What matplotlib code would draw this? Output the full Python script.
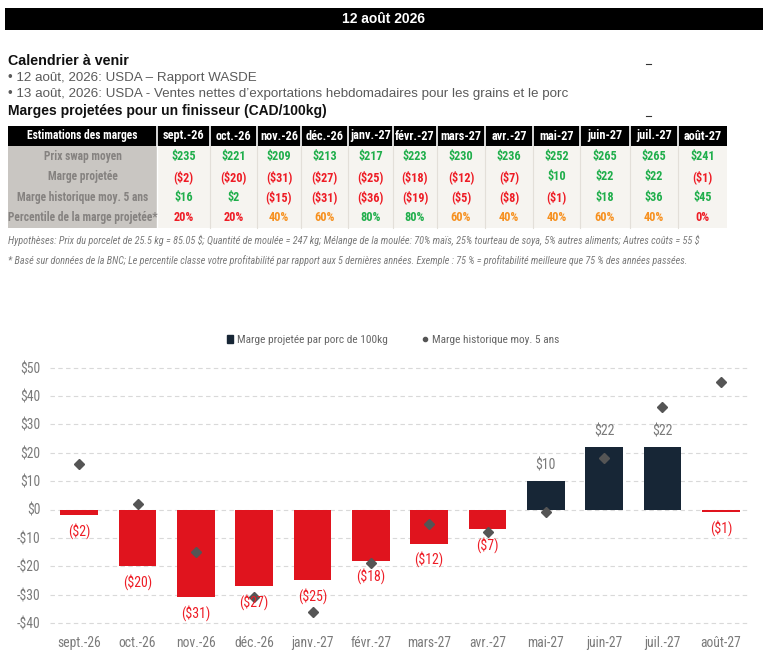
import matplotlib
matplotlib.use('Agg')
import matplotlib.pyplot as plt
from matplotlib import font_manager
from matplotlib.patches import Rectangle, Patch
from matplotlib.lines import Line2D

plt.rcParams['text.parse_math'] = False

# ---------------- data ----------------
months = ["sept.-26", "oct.-26", "nov.-26", "déc.-26", "janv.-27", "févr.-27",
          "mars-27", "avr.-27", "mai-27", "juin-27", "juil.-27", "août-27"]
swap_price = [235, 221, 209, 213, 217, 223, 230, 236, 252, 265, 265, 241]
proj_margin = [-2, -20, -31, -27, -25, -18, -12, -7, 10, 22, 22, -1]
hist_margin = [16, 2, -15, -31, -36, -19, -5, -8, -1, 18, 36, 45]
percentile = [20, 20, 40, 60, 80, 80, 60, 40, 40, 60, 40, 0]
row_labels = ["Prix swap moyen", "Marge projetée", "Marge historique moy. 5 ans",
              "Percentile de la marge projetée*"]
y_ticks = [-40, -30, -20, -10, 0, 10, 20, 30, 40, 50]

title_banner = "12 août 2026"
cal_title = "Calendrier à venir"
cal_items = ["• 12 août, 2026: USDA – Rapport WASDE",
             "• 13 août, 2026: USDA - Ventes nettes d’exportations hebdomadaires pour les grains et le porc"]
table_title = "Marges projetées pour un finisseur (CAD/100kg)"
table_head = "Estimations des marges"
note1 = ("Hypothèses: Prix du porcelet de 25.5 kg = 85.05 $; Quantité de moulée = 247 kg; "
         "Mélange de la moulée: 70% maïs, 25% tourteau de soya, 5% autres aliments; Autres coûts = 55 $")
note2 = ("* Basé sur données de la BNC; Le percentile classe votre profitabilité par rapport aux "
         "5 dernières années. Exemple : 75 % = profitabilité meilleure que 75 % des années passées.")
legend_labels = ["Marge projetée par porc de 100kg", "Marge historique moy. 5 ans"]

# ---------------- fonts ----------------
avail = {f.name for f in font_manager.fontManager.ttflist}
def pick(*names):
    for n in names:
        if n in avail:
            return n
    return 'DejaVu Sans'
NARROW = pick('Liberation Sans Narrow', 'DejaVu Sans Condensed', 'Roboto Condensed', 'Liberation Sans')
SANS = pick('Liberation Sans', 'Arial', 'DejaVu Sans')
plt.rcParams['font.family'] = [SANS, 'DejaVu Sans']

# ---------------- colours ----------------
RED = '#e0141e'
NAVY = '#172636'
GREEN = '#1fae4b'
ORANGE = '#f7901e'
TXT_RED = '#ee1c25'
GRAY_TXT = '#858280'

W, H = 781, 657
fig = plt.figure(figsize=(W / 100, H / 100), dpi=100)
fig.patch.set_facecolor('white')

ax0 = fig.add_axes([0, 0, 1, 1])
ax0.set_xlim(0, W)
ax0.set_ylim(H, 0)
ax0.axis('off')

# banner
ax0.add_patch(Rectangle((5, 8), 758, 22, color='black', lw=0))
ax0.text(384, 19, title_banner, color='white', fontsize=10, fontweight='bold',
         ha='center', va='center')

ax0.text(8, 61, cal_title, fontsize=10.3, fontweight='bold', color='#111111', va='center')
ax0.text(8, 78, cal_items[0], fontsize=9.6, color='#5a5a5a', va='center')
ax0.text(8, 94.5, cal_items[1], fontsize=9.6, color='#5a5a5a', va='center')
ax0.text(8, 111, table_title, fontsize=10, fontweight='bold', color='#111111', va='center')
ax0.plot([646, 651], [64, 64], color='#333333', lw=0.8)
ax0.plot([646, 651], [116, 116], color='#333333', lw=0.8)

# table
col_edges = [8, 157, 210, 257, 301, 348, 393, 437, 485, 533, 580, 630, 678, 727]
row_edges = [126, 146, 166.5, 187, 207.5, 228]
ax0.add_patch(Rectangle((col_edges[0], row_edges[0]), col_edges[-1] - col_edges[0],
                        row_edges[1] - row_edges[0], color='black', lw=0))
ax0.add_patch(Rectangle((col_edges[0], row_edges[1]), col_edges[1] - col_edges[0],
                        row_edges[-1] - row_edges[1], color='#c9c6c2', lw=0))
ax0.add_patch(Rectangle((col_edges[1], row_edges[1]), col_edges[-1] - col_edges[1],
                        row_edges[-1] - row_edges[1], color='#f6f4f0', lw=0))
for x in col_edges[1:-1]:
    ax0.plot([x, x], [row_edges[0], row_edges[1]], color='white', lw=1.2)
    if x != col_edges[1]:
        ax0.plot([x, x], [row_edges[1], row_edges[-1]], color='#e3dfd9', lw=0.8)
ax0.plot([col_edges[1], col_edges[1]], [row_edges[1], row_edges[-1]], color='white', lw=1)

def cx(i):
    return (col_edges[i] + col_edges[i + 1]) / 2

def cy(r):
    return (row_edges[r] + row_edges[r + 1]) / 2

LFS = 8.3   # first column / header label
VFS = 8.8   # values
ax0.text(cx(0), cy(0), table_head, family=NARROW, fontweight='bold', fontsize=LFS,
         color='white', ha='center', va='center')
for j, m in enumerate(months):
    ax0.text(cx(j + 1), cy(0), m, family=NARROW, fontweight='bold', fontsize=VFS,
             color='white', ha='center', va='center')
for r, lab in enumerate(row_labels):
    ax0.text(cx(0), cy(r + 1), lab, family=NARROW, fontweight='bold', fontsize=LFS,
             color=GRAY_TXT, ha='center', va='center')

def money(v):
    return f"${v}" if v >= 0 else f"(${-v})"

def pct_color(p):
    if p <= 20:
        return TXT_RED
    if p <= 60:
        return ORANGE
    return GREEN

for j in range(len(months)):
    vals = [(money(swap_price[j]), GREEN if swap_price[j] >= 0 else TXT_RED),
            (money(proj_margin[j]), GREEN if proj_margin[j] >= 0 else TXT_RED),
            (money(hist_margin[j]), GREEN if hist_margin[j] >= 0 else TXT_RED),
            (f"{percentile[j]}%", pct_color(percentile[j]))]
    for r, (s, c) in enumerate(vals):
        ax0.text(cx(j + 1), cy(r + 1), s, family=NARROW, fontweight='bold', fontsize=VFS,
                 color=c, ha='center', va='center')

ax0.text(8, 240, note1, family=NARROW, style='italic', fontsize=7.35, color='#7a7a7a', va='center')
ax0.text(8, 261, note2, family=NARROW, style='italic', fontsize=7.3, color='#7a7a7a', va='center')

# ---------------- chart ----------------
ppu = 2.837
zero_px = 509.5
ytop, ybot = 54, -42
top_px = zero_px - ytop * ppu
bot_px = zero_px - ybot * ppu
ax = fig.add_axes([50 / W, (H - bot_px) / H, 700 / W, (bot_px - top_px) / H])
ax.set_facecolor('none')
x = list(range(len(months)))
colors = [NAVY if v >= 0 else RED for v in proj_margin]
bars = ax.bar(x, proj_margin, width=0.643, color=colors, zorder=2)
ax.plot(x, hist_margin, linestyle='none', marker='D', markersize=5.2, color='#555555', zorder=3)
for xi, v in zip(x, proj_margin):
    if v >= 0:
        ax.annotate(money(v), (xi, v), xytext=(0, 11), textcoords='offset points',
                    ha='center', va='center', fontsize=10, color='#7a7a7a', family=NARROW)
    else:
        ax.annotate(money(v), (xi, v), xytext=(0, -11.5), textcoords='offset points',
                    ha='center', va='center', fontsize=10, color=TXT_RED, family=NARROW)
ax.set_xlim(-0.5, len(months) - 0.5)
ax.set_ylim(ybot, ytop)
ax.set_yticks(y_ticks)
ax.set_yticklabels([f"${t}" if t >= 0 else f"-${-t}" for t in y_ticks], family=NARROW)
ax.set_xticks(x)
ax.set_xticklabels(months, family=NARROW)
ax.grid(axis='y', color='#d9d9d9', linestyle=(0, (4, 3)), lw=0.8, zorder=0)
ax.set_axisbelow(True)
for s in ax.spines.values():
    s.set_visible(False)
ax.tick_params(axis='both', length=0, colors='#7a7a7a', labelsize=9.8)
ax.tick_params(axis='y', pad=7)
ax.tick_params(axis='x', pad=5)

handles = [Patch(color=NAVY), Line2D([], [], linestyle='none', marker='o', markersize=3, color='#555555')]
ax.legend(handles, legend_labels, loc='center', bbox_to_anchor=(393 / W, 1 - 340 / H),
          bbox_transform=fig.transFigure, ncol=2, frameon=False,
          prop={'family': NARROW, 'size': 8.2},
          handlelength=0.6, handleheight=0.6, handletextpad=0.3, columnspacing=3.0,
          labelcolor='#666666')

fig.savefig('out.png', dpi=100, facecolor='white')
